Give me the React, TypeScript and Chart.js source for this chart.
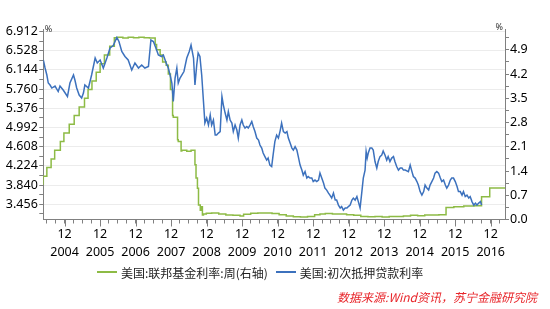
import React, { useEffect, useRef } from 'react';
import { Chart, registerables } from 'chart.js';

Chart.register(...registerables);

// ---------- data ----------
const seriesNames = ['美国:联邦基金利率:周(右轴)', '美国:初次抵押贷款利率'];
const seriesColors = ['#8DBB45', '#3C71BD'];
const sourceText = '数据来源:Wind资讯，苏宁金融研究院';
const unitLabel = '%';

const xMin = 2004.36;
const xMax = 2017.36;

const xTickMonth = '12';
const xTickYears = ['2004', '2005', '2006', '2007', '2008', '2009', '2010', '2011', '2012', '2013', '2014', '2015', '2016'];
const leftTickLabels = ['3.456', '3.840', '4.224', '4.608', '4.992', '5.376', '5.760', '6.144', '6.528', '6.912'];
const rightTickLabels = ['0.0', '0.7', '1.4', '2.1', '2.8', '3.5', '4.2', '4.9'];

// 美国:联邦基金利率:周 (right axis), step series
const fedDates = [
  2004.36, 2004.46, 2004.58, 2004.68, 2004.84, 2004.94, 2005.09, 2005.23, 2005.37, 2005.52,
  2005.62, 2005.73, 2005.85, 2005.96, 2006.08, 2006.23, 2006.36, 2006.45, 2006.6, 2006.75,
  2006.9, 2007.05, 2007.2, 2007.35, 2007.51, 2007.55, 2007.65, 2007.72, 2007.82, 2007.88,
  2007.94, 2008.0, 2008.02, 2008.14, 2008.16, 2008.24, 2008.26, 2008.4, 2008.52, 2008.63,
  2008.66, 2008.7, 2008.73, 2008.78, 2008.81, 2008.84, 2008.87, 2008.95, 2009.1, 2009.3,
  2009.5, 2009.7, 2009.9, 2010.0, 2010.2, 2010.4, 2010.6, 2010.8, 2011.0, 2011.2,
  2011.4, 2011.6, 2011.8, 2012.0, 2012.15, 2012.3, 2012.5, 2012.7, 2012.9, 2013.1,
  2013.3, 2013.5, 2013.7, 2013.9, 2014.1, 2014.3, 2014.5, 2014.7, 2014.9, 2015.1,
  2015.3, 2015.5, 2015.7, 2015.92, 2016.2, 2016.5, 2016.7, 2016.93, 2017.17, 2017.36,
];
const fedRates = [
  1.0, 1.25, 1.5, 1.75, 2.0, 2.25, 2.5, 2.75, 3.0, 3.25,
  3.5, 3.75, 4.0, 4.25, 4.5, 4.75, 5.0, 5.25, 5.26, 5.24,
  5.26, 5.25, 5.26, 5.25, 5.24, 5.05, 4.9, 4.75, 4.55, 4.45,
  4.2, 3.75, 3.0, 2.95, 2.3, 2.25, 1.98, 2.0, 1.97, 2.0,
  1.58, 1.2, 0.9, 0.42, 0.27, 0.37, 0.13, 0.16, 0.18, 0.19,
  0.16, 0.13, 0.12, 0.1, 0.15, 0.18, 0.19, 0.19, 0.17, 0.14,
  0.1, 0.08, 0.07, 0.09, 0.14, 0.16, 0.17, 0.16, 0.16, 0.14,
  0.12, 0.09, 0.08, 0.09, 0.07, 0.09, 0.09, 0.1, 0.12, 0.11,
  0.13, 0.13, 0.14, 0.35, 0.37, 0.39, 0.4, 0.66, 0.91, 0.91,
];

// 美国:初次抵押贷款利率 (left axis)
const mortDates = [
  2004.36, 2004.41, 2004.46, 2004.5, 2004.55, 2004.6, 2004.69, 2004.78, 2004.83, 2004.92,
  2005.04, 2005.11, 2005.21, 2005.25, 2005.3, 2005.37, 2005.44, 2005.49, 2005.53, 2005.63,
  2005.72, 2005.82, 2005.88, 2005.96, 2006.05, 2006.15, 2006.24, 2006.33, 2006.43, 2006.49,
  2006.57, 2006.66, 2006.75, 2006.85, 2006.94, 2007.04, 2007.13, 2007.22, 2007.32, 2007.39,
  2007.46, 2007.53, 2007.6, 2007.69, 2007.74, 2007.82, 2007.88, 2007.93, 2007.98, 2008.02,
  2008.07, 2008.12, 2008.16, 2008.21, 2008.26, 2008.32, 2008.4, 2008.47, 2008.52, 2008.59,
  2008.63, 2008.68, 2008.72, 2008.77, 2008.82, 2008.87, 2008.91, 2008.96, 2009.01, 2009.06,
  2009.1, 2009.15, 2009.2, 2009.24, 2009.29, 2009.34, 2009.39, 2009.43, 2009.48, 2009.53,
  2009.57, 2009.62, 2009.67, 2009.71, 2009.76, 2009.81, 2009.85, 2009.9, 2009.95, 2009.99,
  2010.04, 2010.09, 2010.13, 2010.18, 2010.23, 2010.27, 2010.32, 2010.37, 2010.42, 2010.46,
  2010.51, 2010.55, 2010.6, 2010.65, 2010.69, 2010.74, 2010.79, 2010.83, 2010.88, 2010.93,
  2010.98, 2011.03, 2011.07, 2011.12, 2011.17, 2011.22, 2011.26, 2011.31, 2011.36, 2011.4,
  2011.45, 2011.5, 2011.54, 2011.59, 2011.64, 2011.68, 2011.73, 2011.78, 2011.82, 2011.87,
  2011.92, 2011.96, 2012.01, 2012.06, 2012.11, 2012.15, 2012.2, 2012.25, 2012.29, 2012.34,
  2012.39, 2012.43, 2012.48, 2012.53, 2012.58, 2012.62, 2012.67, 2012.72, 2012.76, 2012.81,
  2012.86, 2012.91, 2012.95, 2013.0, 2013.05, 2013.09, 2013.14, 2013.19, 2013.23, 2013.28,
  2013.33, 2013.37, 2013.42, 2013.45, 2013.48, 2013.51, 2013.56, 2013.61, 2013.65, 2013.7,
  2013.75, 2013.79, 2013.84, 2013.89, 2013.93, 2013.98, 2014.03, 2014.07, 2014.12, 2014.17,
  2014.22, 2014.26, 2014.31, 2014.36, 2014.41, 2014.46, 2014.5, 2014.55, 2014.64, 2014.69,
  2014.74, 2014.78, 2014.83, 2014.88, 2014.92, 2014.97, 2015.02, 2015.07, 2015.11, 2015.16,
  2015.21, 2015.25, 2015.3, 2015.35, 2015.39, 2015.44, 2015.49, 2015.54, 2015.58, 2015.63,
  2015.68, 2015.72, 2015.77, 2015.82, 2015.86, 2015.91, 2015.96, 2016.01, 2016.05, 2016.1,
  2016.15, 2016.19, 2016.24, 2016.29, 2016.34, 2016.38, 2016.43, 2016.48, 2016.53, 2016.57,
  2016.62, 2016.67, 2016.7,
];
const mortRates = [
  6.34, 6.18, 6.04, 5.88, 5.84, 5.78, 5.82, 5.71, 5.82, 5.74,
  5.61, 5.88, 6.04, 5.94, 5.78, 5.64, 5.58, 5.68, 5.84, 5.78,
  6.04, 6.38, 6.28, 6.34, 6.18, 6.38, 6.58, 6.63, 6.79, 6.71,
  6.51, 6.41, 6.34, 6.14, 6.28, 6.18, 6.24, 6.18, 6.21, 6.74,
  6.71, 6.58, 6.44, 6.41, 6.44, 6.28, 6.18, 6.04, 5.88, 5.51,
  5.98, 6.18, 5.88, 5.98, 6.04, 6.11, 6.38, 6.51, 6.64, 6.38,
  5.84, 6.24, 6.48, 6.41, 6.04, 5.51, 5.08, 5.18, 5.04, 5.24,
  5.04, 5.14, 4.84, 4.84, 4.88, 4.91, 5.61, 5.44, 5.28, 5.14,
  5.31, 5.14, 5.08, 4.91, 5.04, 4.94, 4.78, 5.04, 5.14, 5.04,
  4.98, 5.01, 4.98, 5.04, 5.11, 5.01, 4.91, 4.78, 4.74, 4.64,
  4.58, 4.48, 4.41, 4.34, 4.38, 4.24, 4.21, 4.44, 4.71, 4.84,
  4.78, 4.93, 5.08, 4.91, 4.88, 4.91, 4.78, 4.68, 4.58, 4.54,
  4.61, 4.54, 4.41, 4.24, 4.14, 4.04, 4.11, 3.98, 4.01, 3.98,
  3.98, 3.91, 3.94, 3.91, 3.94, 4.08, 3.98, 3.88, 3.78, 3.74,
  3.68, 3.64, 3.58, 3.68, 3.54, 3.54, 3.44, 3.38, 3.41, 3.34,
  3.38, 3.38, 3.41, 3.44, 3.54, 3.58, 3.54, 3.61, 3.51, 3.38,
  3.71, 3.98, 4.14, 4.51, 4.38, 4.48, 4.58, 4.58, 4.54, 4.31,
  4.18, 4.31, 4.41, 4.44, 4.52, 4.44, 4.34, 4.41, 4.31, 4.38,
  4.41, 4.31, 4.21, 4.14, 4.18, 4.18, 4.14, 4.14, 4.11, 4.24,
  4.11, 4.01, 3.98, 3.91, 3.84, 3.71, 3.64, 3.71, 3.84, 3.78,
  3.74, 3.84, 3.91, 3.98, 4.08, 4.11, 4.08, 3.98, 3.91, 3.94,
  3.84, 3.78, 3.84, 3.94, 3.98, 3.98, 3.91, 3.81, 3.71, 3.71,
  3.64, 3.71, 3.61, 3.64, 3.58, 3.61, 3.51, 3.44, 3.48, 3.44,
  3.48, 3.51, 3.44,
];

// ---------- styling ----------
const FONT = '"Noto Sans", "DejaVu Sans", sans-serif';
const CJK = '"Noto Sans CJK SC", "Noto Sans", sans-serif';
const AXIS = '#808080';
const GRID = '#ECECEC';

const near = (arr: number[], v: number) => arr.some((m) => Math.abs(m - v) < 1e-6);

export default function App() {
  const ref = useRef<HTMLCanvasElement>(null);

  useEffect(() => {
    const canvas = ref.current;
    if (!canvas) return;

    const fedData = fedDates.map((d, i) => ({ x: d, y: fedRates[i] }));
    const mortData = mortDates.map((d, i) => ({ x: d, y: mortRates[i] }));

    const leftMajor = leftTickLabels.map(Number);
    const leftTicks = [...leftMajor, ...leftMajor.map((v) => +(v - 0.192).toFixed(3))].sort((a, b) => a - b);
    const rightMajor = rightTickLabels.map(Number);
    const rightTicks = [...rightMajor, ...rightMajor.map((v) => +(v + 0.35).toFixed(2))].sort((a, b) => a - b);

    const decTicks = xTickYears.map((y) => +(Number(y) + 0.958).toFixed(3));
    const xTicks: number[] = [...decTicks];
    const years = xTickYears.map(Number);
    years.push(years[years.length - 1] + 1);
    for (const y of years) {
      for (const f of [0.208, 0.458, 0.708]) {
        const v = +(y + f).toFixed(3);
        if (v > xMin && v < xMax) xTicks.push(v);
      }
    }
    xTicks.sort((a, b) => a - b);

    const unitPlugin = {
      id: 'unitLabels',
      afterDraw(chart: any) {
        const { ctx, chartArea } = chart;
        ctx.save();
        ctx.font = `9px ${FONT}`;
        ctx.fillStyle = '#333';
        ctx.textBaseline = 'middle';
        ctx.textAlign = 'left';
        ctx.fillText(unitLabel, chartArea.left + 1.5, chartArea.top);
        ctx.textAlign = 'right';
        ctx.fillText(unitLabel, chartArea.right - 2, chartArea.top - 1.5);
        // longer tick marks at each December
        const xs = chart.scales.x;
        ctx.strokeStyle = AXIS;
        ctx.lineWidth = 1;
        ctx.beginPath();
        for (const d of decTicks) {
          const px = Math.round(xs.getPixelForValue(d)) + 0.5;
          ctx.moveTo(px, chartArea.bottom);
          ctx.lineTo(px, chartArea.bottom + 7);
        }
        ctx.stroke();
        ctx.restore();
      },
    };

    const chart = new Chart(canvas, {
      type: 'line',
      data: {
        datasets: [
          {
            label: seriesNames[0],
            data: fedData,
            yAxisID: 'yR',
            borderColor: seriesColors[0],
            backgroundColor: seriesColors[0],
            borderWidth: 1.5,
            pointRadius: 0,
            stepped: 'after',
            fill: false,
            order: 1,
          },
          {
            label: seriesNames[1],
            data: mortData,
            yAxisID: 'yL',
            borderColor: seriesColors[1],
            backgroundColor: seriesColors[1],
            borderWidth: 1.5,
            pointRadius: 0,
            tension: 0,
            fill: false,
            order: 0,
          },
        ],
      },
      options: {
        animation: false,
        responsive: false,
        devicePixelRatio: 1,
        layout: { padding: { top: 29, bottom: 49.5, left: 0, right: 0 } },
        plugins: {
          legend: { display: false },
          tooltip: { enabled: false },
        },
        scales: {
          x: {
            type: 'linear',
            position: 'bottom',
            min: xMin,
            max: xMax,
            afterBuildTicks: (s: any) => {
              s.ticks = xTicks.map((v) => ({ value: v }));
            },
            afterFit: (s: any) => {
              s.height = 40;
            },
            grid: { drawOnChartArea: false, tickLength: 4, color: AXIS },
            border: { color: AXIS },
            ticks: {
              autoSkip: false,
              maxRotation: 0,
              minRotation: 0,
              padding: 2,
              color: '#000',
              font: { family: FONT, size: 12.5, lineHeight: 1.44 },
              callback: (v: any) => {
                const i = decTicks.findIndex((d) => Math.abs(d - Number(v)) < 1e-6);
                return i >= 0 ? [xTickMonth, xTickYears[i]] : '';
              },
            },
          },
          yL: {
            type: 'linear',
            position: 'left',
            min: 3.152,
            max: 6.96,
            afterBuildTicks: (s: any) => {
              s.ticks = leftTicks.map((v) => ({ value: v }));
            },
            afterFit: (s: any) => {
              s.width = 43.3;
            },
            grid: {
              color: (c: any) => (c.tick && near(leftMajor, c.tick.value) ? GRID : 'rgba(0,0,0,0)'),
              tickColor: AXIS,
              tickLength: 4,
            },
            border: { color: AXIS },
            ticks: {
              autoSkip: false,
              padding: 1.5,
              color: '#000',
              font: { family: FONT, size: 12.5 },
              callback: (v: any) => {
                const i = leftMajor.findIndex((m) => Math.abs(m - Number(v)) < 1e-6);
                return i >= 0 ? leftTickLabels[i] : '';
              },
            },
          },
          yR: {
            type: 'linear',
            position: 'right',
            min: 0,
            max: 5.5,
            afterBuildTicks: (s: any) => {
              s.ticks = rightTicks.map((v) => ({ value: v }));
            },
            afterFit: (s: any) => {
              s.width = 45;
            },
            grid: { drawOnChartArea: false, color: AXIS, tickLength: 4 },
            border: { color: AXIS },
            ticks: {
              autoSkip: false,
              padding: 1,
              color: '#000',
              font: { family: FONT, size: 12.5 },
              callback: (v: any) => {
                const i = rightMajor.findIndex((m) => Math.abs(m - Number(v)) < 1e-6);
                return i >= 0 ? rightTickLabels[i] : '';
              },
            },
          },
        },
      },
      plugins: [unitPlugin],
    } as any);

    return () => chart.destroy();
  }, []);

  return (
    <div style={{ position: 'absolute', left: 0, top: 0, width: 550, height: 309, background: '#fff', overflow: 'hidden' }}>
      <canvas ref={ref} width={550} height={309} style={{ display: 'block', width: 550, height: 309 }} />
      <div
        style={{
          position: 'absolute',
          left: 97,
          top: 263,
          height: 18,
          display: 'flex',
          alignItems: 'center',
          fontFamily: CJK,
          fontSize: 12,
          color: '#222',
          whiteSpace: 'nowrap',
        }}
      >
        {seriesNames.map((name, i) => (
          <div key={name} style={{ display: 'flex', alignItems: 'center', marginRight: i === 0 ? 8 : 0 }}>
            <span style={{ display: 'inline-block', width: 20, height: 1.5, background: seriesColors[i], marginRight: 4 }} />
            <span>{name}</span>
          </div>
        ))}
      </div>
      <div
        style={{
          position: 'absolute',
          right: 13,
          top: 288,
          height: 18,
          lineHeight: '18px',
          fontFamily: CJK,
          fontSize: 12,
          fontStyle: 'italic',
          color: '#E8262B',
          whiteSpace: 'nowrap',
        }}
      >
        {sourceText}
      </div>
    </div>
  );
}
